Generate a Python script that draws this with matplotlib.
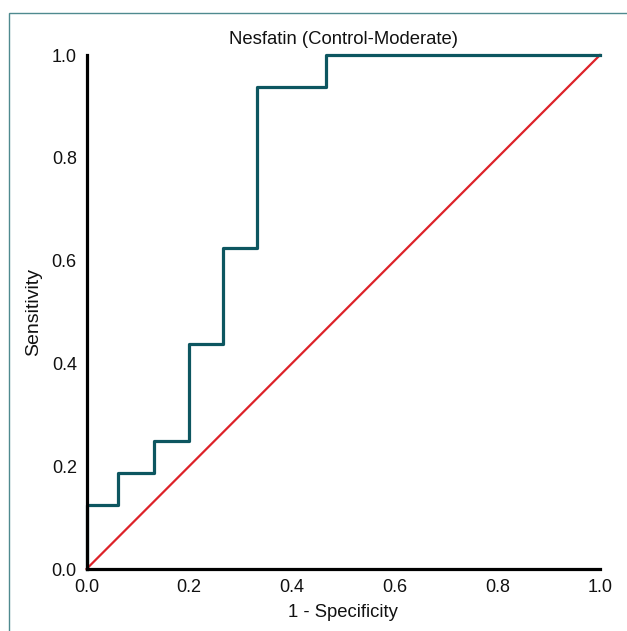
import matplotlib
matplotlib.use("Agg")
import matplotlib.pyplot as plt
from matplotlib.patches import Rectangle

plt.rcParams['font.family'] = ['Liberation Sans', 'DejaVu Sans']

title = "Nesfatin (Control-Moderate)"
xlabel = "1 - Specificity"
ylabel = "Sensitivity"

fpr = [0.0, 0.0, 0.062, 0.062, 0.131, 0.131, 0.2, 0.2, 0.266, 0.266, 0.333, 0.333, 0.467, 0.467, 1.0]
tpr = [0.0, 0.125, 0.125, 0.1875, 0.1875, 0.25, 0.25, 0.4375, 0.4375, 0.625, 0.625, 0.9375, 0.9375, 1.0, 1.0]
ref_x = [0.0, 1.0]
ref_y = [0.0, 1.0]
ticks = [0.0, 0.2, 0.4, 0.6, 0.8, 1.0]
tick_labels = ["0.0", "0.2", "0.4", "0.6", "0.8", "1.0"]

W, H = 627, 631
fig = plt.figure(figsize=(W / 100, H / 100), dpi=100)
fig.patch.set_facecolor('white')

# outer frame (open at right/bottom edges of the image)
fig.add_artist(Rectangle((8.5 / W, -0.05), 1.2, 1 - 12.5 / H + 0.05,
                         transform=fig.transFigure, fill=False,
                         edgecolor='#4f8a8f', linewidth=1.0))

ax = fig.add_axes([86.5 / W, 1 - 569 / H, (600 - 86.5) / W, (569 - 55) / H])
ax.plot(fpr, tpr, color='#0d5660', linewidth=2.3, clip_on=False, zorder=3)
ax.plot(ref_x, ref_y, color='#dd2229', linewidth=1.6, clip_on=False, zorder=2)

ax.set_xlim(0, 1)
ax.set_ylim(0, 1)
ax.set_xticks(ticks)
ax.set_xticklabels(tick_labels)
ax.set_yticks(ticks)
ax.set_yticklabels(tick_labels)
ax.tick_params(length=0, labelsize=13, pad=7, colors='#111111')

for s in ['top', 'right']:
    ax.spines[s].set_visible(False)
for s in ['left', 'bottom']:
    ax.spines[s].set_linewidth(2.3)
    ax.spines[s].set_color('black')
    ax.spines[s].set_zorder(4)

ax.set_title(title, fontsize=13.3, pad=8, color='#111111')
ax.set_xlabel(xlabel, fontsize=13.3, labelpad=6, color='#111111')
ax.set_ylabel(ylabel, fontsize=14, labelpad=7, color='#111111')

fig.savefig("out.png", dpi=100)
